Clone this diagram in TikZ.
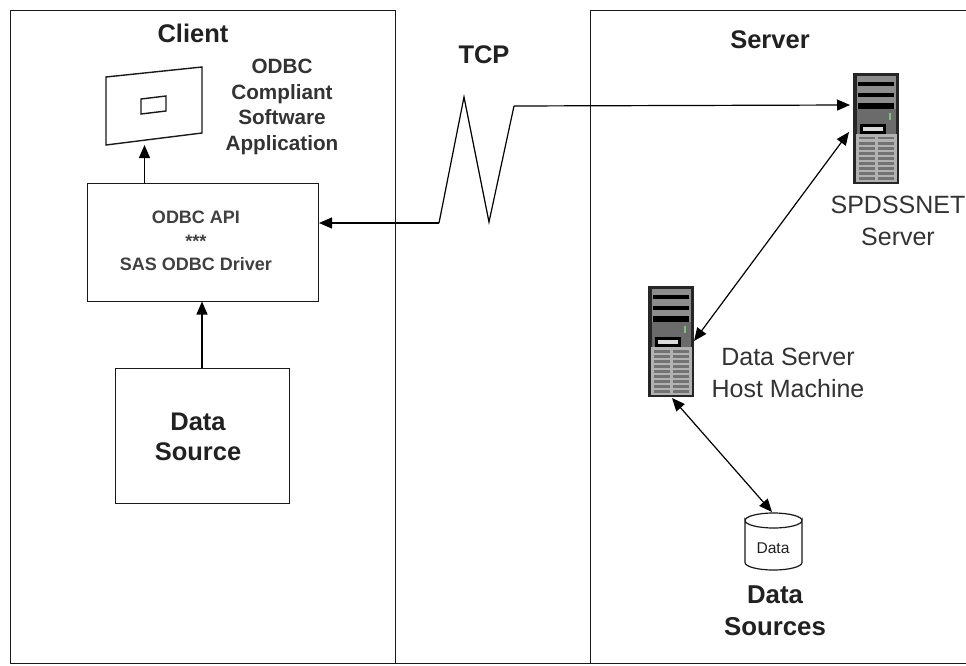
\documentclass[tikz,border=0pt]{standalone}
\usepackage{fontspec}
\setmainfont{Liberation Sans}
\usetikzlibrary{arrows.meta}
\definecolor{txt}{gray}{0.13}
\tikzset{x=1pt,y=-1pt,
 line/.style={draw=black!90,line width=1.4pt},
 conn/.style={draw=black,line width=1.2pt},
 tip/.style={-{Triangle[length=13pt,width=11pt]}},
 tips/.style={{Triangle[length=13pt,width=11pt]}-{Triangle[length=13pt,width=11pt]}},
 bold/.style={font=\bfseries\fontsize{25.5}{30}\selectfont,text=txt,align=center},
 apitext/.style={font=\bfseries\fontsize{18}{23.5}\selectfont,text=black!75,align=center},
 lite/.style={font=\fontsize{25}{32.5}\selectfont,text=black!80,align=center},
 big/.style={font=\bfseries\fontsize{25.5}{30}\selectfont,text=txt,align=center},
 app/.style={font=\bfseries\fontsize{20.7}{25.7}\selectfont,text=black!80,align=center},
}
\newcommand{\towersrv}[2]{%
 \begin{scope}[shift={(#1,#2)}]
 \fill[black!85] (0,0) rectangle (46,111);
 \fill[black!45] (4,3) rectangle (43,36);
 \fill[black] (5,9) rectangle (41,13);
 \fill[black] (5,20) rectangle (41,24);
 \fill[black] (5,30) rectangle (41,36);
 \fill[black!58] (4,36) rectangle (43,61);
 \fill[green!50!black!50] (36,40) rectangle (38,47);
 \fill[black] (7,51) rectangle (33,61);
 \fill[white!85!black] (10,54) rectangle (30,58);
 \fill[black!30] (3,61) rectangle (44,109);
 \foreach \yy in {64,69,...,104}{\fill[black!55] (6,\yy) rectangle (22,\yy+2.5);\fill[black!55] (25,\yy) rectangle (41,\yy+2.5);}
 \end{scope}}
\begin{document}
\begin{tikzpicture}
\useasboundingbox (0,0) rectangle (966,666);
\fill[white] (0,0) rectangle (966,666);
\node[line,minimum width=385pt,minimum height=653pt,inner sep=0,anchor=north west] (client) at (10,10) {};
\node[line,minimum width=385pt,minimum height=653pt,inner sep=0,anchor=north west] (server) at (590,10) {};
\draw[line] ([yshift=0.7pt]client.south east) -- ([yshift=0.7pt]server.south west);
\node[bold] (clientlabel) at (193,33) {Client};
\node[bold] (serverlabel) at (770,40) {Server};
\node[bold] (tcplabel) at (484,55) {TCP};
% application window
\draw[line] (106,77) -- (202,67) -- (202,133) -- (106,145) -- cycle;
\coordinate (appbottom) at (144.5,145);
\draw[line] (141,99) -- (166,96) -- (166,111) -- (141,114) -- cycle;
\node[app] (applabel) at (282,107) {ODBC\\Compliant\\Software\\Application};
\node[line,minimum width=231pt,minimum height=118pt,inner sep=0,anchor=north west] (api) at (87,183) {};
\node[apitext] (apilabel) at (196,241) {ODBC API\\***\\SAS ODBC Driver};
\node[line,minimum width=174pt,minimum height=135pt,inner sep=0,anchor=north west] (source) at (115,368) {};
\node[big] (sourcelabel) at (198,437) {Data\\Source};
\coordinate (apibelow) at (202,301.5);
\draw[conn,tip] (api.north -| appbottom) -- (appbottom);
\draw[conn,tip] (source.north -| apibelow) -- (apibelow);
% servers
\towersrv{853}{73}
\coordinate (netw) at (850,105);
\coordinate (netl) at (849,132);
\node[lite] (netlabel) at (898,221) {SPDSSNET\\Server};
\towersrv{648}{286}
\coordinate (hostr) at (694,341);
\coordinate (hostb) at (672,398);
\node[lite] (hostlabel) at (788,373) {Data Server\\Host Machine};
% TCP line
\coordinate (p1) at (439,223);
\coordinate (p2) at (464,97);
\coordinate (p3) at (489,222);
\coordinate (p4) at (514,106);
\draw[conn,tip] (p1) -- (319,223);
\draw[conn] (p1) -- (p2) -- (p3) -- (p4);
\draw[conn,tip] (p4) -- (netw);
\draw[conn,tips] (hostr) -- (netl);
% cylinder
\draw[line,line width=1.2pt,fill=white] (745,520.5) arc[start angle=180,end angle=360,x radius=28.5pt,y radius=7.5pt] -- (802,562.5) arc[start angle=0,end angle=180,x radius=28.5pt,y radius=-7.5pt] -- cycle;
\draw[line,line width=1.2pt] (745,520.5) arc[start angle=180,end angle=0,x radius=28.5pt,y radius=7.5pt];
\node[font=\fontsize{15.6}{18}\selectfont,text=txt] (dbtext) at (773,548) {Data};
\coordinate (dbtop) at (772,512);
\draw[conn,tips] (hostb) -- (dbtop);
\node[bold,font=\bfseries\fontsize{25.8}{32}\selectfont] (dblabel) at (775,611) {Data\\Sources};
\end{tikzpicture}
\end{document}
